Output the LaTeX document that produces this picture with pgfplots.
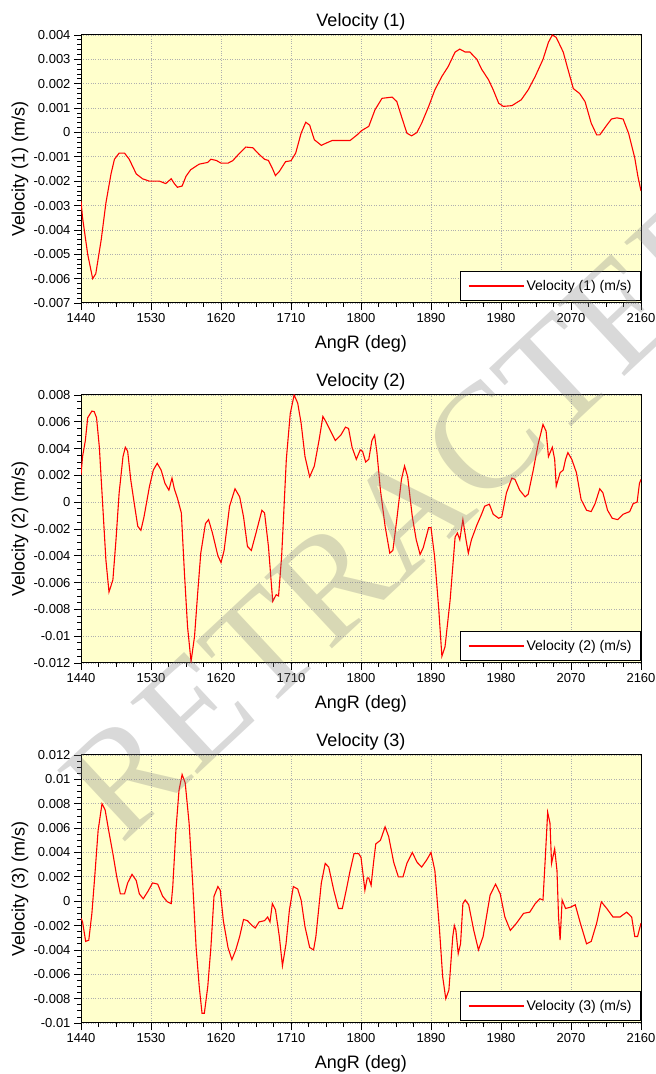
\documentclass[border=0pt]{standalone}
\usepackage{pgfplots}
\pgfplotsset{compat=1.18}
\usepackage{fontspec}
\setmainfont{Liberation Sans}
\newfontfamily\wmfont{Liberation Serif}
\definecolor{bgyellow}{RGB}{255,255,204}
\definecolor{gridgray}{RGB}{175,175,175}
\definecolor{pltred}{RGB}{255,0,0}

\pgfplotstableread{
x y
1440 -0.0028
1442 -0.0035
1448.6 -0.0050
1455 -0.0060
1459 -0.0058
1466 -0.0044
1472 -0.0029
1478.6 -0.0017
1483 -0.0011
1489 -0.00085
1496 -0.00085
1502 -0.0011
1511 -0.0017
1519 -0.0019
1528 -0.0020
1541 -0.0020
1549 -0.0021
1556 -0.0019
1560 -0.0021
1564 -0.00225
1570 -0.0022
1575 -0.0018
1581 -0.00153
1592 -0.0013
1603 -0.00123
1607 -0.0011
1614 -0.00115
1620 -0.00126
1629 -0.00126
1635 -0.00116
1644 -0.00085
1652 -0.0006
1661 -0.00063
1669 -0.0009
1676 -0.0011
1681 -0.00115
1686 -0.00147
1690 -0.00177
1695 -0.0016
1703 -0.0012
1710 -0.00116
1716 -0.00085
1723 -0.00003
1729 0.00042
1734 0.0003
1740 -0.0003
1749 -0.00053
1755 -0.00044
1763 -0.00033
1786 -0.00033
1795 -0.0001
1801 0.00008
1810 0.00025
1818 0.00093
1827 0.0014
1840 0.00145
1846 0.00127
1852 0.00066
1859 -0.00003
1865 -0.00014
1872 0
1878 0.00038
1887 0.00107
1895 0.00175
1904 0.0023
1912 0.0027
1921 0.0033
1927 0.00342
1934 0.0033
1940 0.0033
1949 0.003
1955 0.0026
1964 0.00216
1970 0.00175
1977 0.0012
1983 0.00107
1994 0.0011
2006 0.00134
2015 0.00175
2024 0.0023
2034 0.003
2041 0.0037
2046 0.0040
2051 0.0039
2060 0.0033
2066 0.0026
2073 0.0018
2081 0.0016
2088 0.00127
2096 0.00038
2103 -0.0001
2107 -0.0001
2116 0.0003
2122 0.00055
2129 0.0006
2137 0.00055
2144 -0.00003
2152 -0.00105
2156 -0.0018
2160 -0.0024
}\velone

\pgfplotstableread{
x y
1440 0.00204
1442 0.0034
1445.6 0.0046
1448.6 0.0063
1454 0.0068
1457 0.00676
1460 0.0063
1463.6 0.0041
1468 -0.0003
1472 -0.0043
1476 -0.0067
1481 -0.0058
1485 -0.0028
1489 0.00067
1494 0.0034
1497 0.0041
1500 0.0038
1504 0.00166
1509 -0.0003
1513 -0.0018
1517 -0.0021
1521 -0.0011
1528 0.00117
1533 0.0024
1538 0.0029
1543 0.0024
1548 0.0014
1553 0.0009
1557 0.0018
1560 0.001
1564 0.0003
1569 -0.0008
1573 -0.0053
1577 -0.0093
1581.5 -0.0119
1586 -0.0100
1590 -0.0068
1594 -0.0038
1600 -0.0016
1604 -0.0013
1609 -0.0023
1616 -0.0040
1620 -0.0045
1624 -0.0036
1631 -0.0003
1638 0.0010
1644 0.0004
1649 -0.0011
1654 -0.0033
1659 -0.0036
1665 -0.0023
1672.6 -0.0006
1676 -0.0008
1681 -0.0033
1686.5 -0.0074
1691 -0.0069
1694 -0.0070
1698 -0.0040
1704 0.0032
1709 0.0066
1714 0.0080
1718.6 0.0074
1723 0.0059
1728 0.0034
1734 0.0019
1740 0.0027
1746 0.0046
1751 0.0064
1754 0.0061
1761 0.0053
1767 0.0046
1774 0.0050
1780 0.0056
1784 0.0055
1788.5 0.0041
1794 0.0032
1799 0.0039
1802 0.0038
1806 0.0030
1810 0.0032
1814 0.0046
1817.5 0.0050
1820.5 0.0037
1825 0.0009
1831 -0.0018
1837 -0.0038
1841 -0.0036
1846 -0.0013
1852 0.0017
1856 0.0027
1860 0.0019
1866 -0.0011
1871 -0.0028
1876 -0.0039
1880 -0.0034
1887 -0.0019
1890 -0.0019
1894.5 -0.0040
1900 -0.0080
1904 -0.0115
1908 -0.0108
1914.6 -0.0073
1921 -0.0026
1924 -0.0023
1927 -0.0028
1931 -0.0013
1935 -0.0028
1938 -0.0038
1942 -0.0028
1949 -0.0017
1955 -0.0009
1959 -0.0003
1965 -0.00015
1970 -0.0009
1977 -0.0012
1981 -0.0011
1987 0.0007
1994 0.0018
1998 0.0017
2004 0.0009
2011 0.0004
2015 0.0006
2021.5 0.0024
2028 0.0044
2034 0.0058
2038 0.0053
2041 0.0034
2046 0.0041
2049 0.0032
2051 0.0012
2056 0.0022
2060 0.0024
2063 0.0032
2066 0.0037
2071 0.0032
2077 0.0022
2083 0.0002
2090 -0.0006
2096 -0.0007
2101 -0.0001
2107 0.0010
2111 0.0007
2117 -0.0006
2123 -0.0012
2130 -0.0013
2137 -0.0009
2145.5 -0.0007
2150 -0.0001
2155 0.0000
2158 0.0014
2160 0.0017
}\veltwo

\pgfplotstableread{
x y
1440 -0.0014
1442 -0.0017
1446 -0.0033
1450 -0.0032
1454 -0.0010
1458 0.0023
1462 0.0058
1467 0.0080
1471 0.0075
1475.6 0.0058
1481 0.0039
1486 0.0020
1490.6 0.0006
1496 0.0006
1500 0.0015
1505.6 0.0022
1511 0.0017
1515 0.0006
1520 0.0002
1526 0.0008
1532 0.0015
1538.6 0.0014
1545 0.0004
1551 -0.00005
1556 -0.0002
1558 0.0012
1562 0.0058
1566 0.0091
1570 0.0104
1574 0.0097
1579 0.0064
1583.6 0.0015
1588 -0.0038
1592 -0.0070
1595.6 -0.0092
1598.6 -0.0092
1603 -0.0070
1607 -0.0038
1611 0.0004
1616 0.0012
1619 0.0009
1623 -0.0016
1629 -0.0038
1634 -0.0048
1639 -0.0040
1644 -0.0029
1649 -0.0015
1654 -0.0016
1660 -0.0020
1664 -0.0022
1669 -0.0017
1676 -0.0016
1680 -0.0013
1683 -0.0017
1686 -0.0002
1690 -0.0007
1695 -0.0029
1699 -0.0053
1703.6 -0.0035
1708 -0.0007
1713 0.0012
1718.6 0.0010
1723 0.0001
1728 -0.0021
1734 -0.0038
1739 -0.0040
1742 -0.0029
1749 0.0015
1754 0.0031
1758.5 0.0028
1765 0.0009
1771 -0.0006
1776 -0.0006
1781 0.0009
1786 0.0025
1791 0.0039
1797 0.0039
1800 0.0036
1803 0.0020
1805 0.0009
1808 0.0019
1810 0.0019
1813 0.0013
1816 0.0031
1819 0.0047
1825 0.0050
1831 0.0061
1835.6 0.0053
1842 0.0032
1848 0.0020
1854 0.0020
1859 0.0031
1866 0.0040
1872 0.0032
1878 0.0028
1884.6 0.0034
1890 0.0040
1895 0.0025
1901 -0.0024
1905 -0.0062
1909 -0.0080
1913 -0.0073
1918 -0.0029
1920 -0.0020
1922 -0.0024
1925 -0.0043
1928 -0.0035
1931 -0.0002
1934 0.0001
1938.5 -0.0003
1945 -0.0024
1951 -0.0040
1957 -0.0029
1966 0.0005
1973 0.0014
1979 0.0006
1985 -0.0013
1992 -0.0024
2000 -0.0018
2009 -0.0010
2017 -0.0009
2024 -0.0002
2030 0.0002
2034 0.0001
2037 0.0036
2040 0.0073
2043 0.0064
2045 0.0031
2049 0.0043
2052 0.0025
2054 -0.0013
2056 -0.0032
2058.6 0.0001
2063 -0.0006
2069 -0.0005
2075.5 -0.0003
2082 -0.0018
2090 -0.0035
2096 -0.0033
2103 -0.0018
2109 -0.00005
2116 -0.0006
2124 -0.0013
2133 -0.0013
2141.5 -0.0009
2148 -0.0013
2152 -0.0029
2155.6 -0.0029
2160 -0.0018
}\velthree

\pgfplotsset{
  velo/.style={
    width=560pt, height=268pt, scale only axis,
    xmin=1440, xmax=2160, xtick={1440,1530,...,2160}, minor x tick num=3,
    axis background/.style={fill=bgyellow},
    grid=major, major grid style={dotted, gridgray, line width=0.7pt},
    tick align=outside, xtick pos=bottom, ytick pos=left,
    major tick length=7pt, minor tick length=4pt,
    every tick/.style={black, line width=0.8pt},
    axis line style={line width=1pt},
    scaled y ticks=false,
    ticklabel style={font=\fontsize{13}{15}\selectfont},
    /pgf/number format/fixed, /pgf/number format/precision=3,
    /pgf/number format/1000 sep={}, /pgf/number format/assume math mode=true,
    title style={at={(0.5,1.026)}, anchor=center, yshift=0pt, font=\fontsize{18}{20}\selectfont, inner sep=0pt},
    xlabel style={at={(axis description cs:0.5,-0.153)}, anchor=center, font=\fontsize{18}{20}\selectfont, inner sep=0pt},
    ylabel style={at={(axis description cs:-0.109,0.5)}, anchor=center, font=\fontsize{18}{20}\selectfont, inner sep=0pt},
    xlabel={AngR (deg)},
    legend style={at={(1,0)}, anchor=south east, yshift=2pt, draw, line width=0.8pt, fill=white,
      font=\fontsize{14}{16}\selectfont, inner xsep=7pt, inner ysep=7pt},
    legend image code/.code={\draw[pltred, line width=2pt] (0pt,0pt) -- (55pt,0pt);},
    legend cell align=left,
  }
}

\begin{document}
\begin{tikzpicture}[x=1pt,y=1pt]
\path[use as bounding box] (0,0) rectangle (656,1074);
\clip (0,0) rectangle (656,1074);

\begin{axis}[velo, at={(81pt,771pt)}, anchor=south west,
  ymin=-0.007, ymax=0.004,
  ytick={-0.007,-0.006,-0.005,-0.004,-0.003,-0.002,-0.001,0,0.001,0.002,0.003,0.004},
  minor y tick num=4,
  title={Velocity (1)}, ylabel={Velocity (1) (m/s)}]
\addplot[pltred, line width=1.1pt, no markers] table[x=x,y=y] {\velone};
\addlegendentry{Velocity (1) (m/s)}
\end{axis}

\begin{axis}[velo, at={(81pt,411pt)}, anchor=south west,
  ymin=-0.012, ymax=0.008,
  ytick={-0.012,-0.01,-0.008,-0.006,-0.004,-0.002,0,0.002,0.004,0.006,0.008},
  minor y tick num=3,
  title={Velocity (2)}, ylabel={Velocity (2) (m/s)}]
\addplot[pltred, line width=1.1pt, no markers] table[x=x,y=y] {\veltwo};
\addlegendentry{Velocity (2) (m/s)}
\end{axis}

\begin{axis}[velo, at={(81pt,51pt)}, anchor=south west,
  ymin=-0.01, ymax=0.012,
  ytick={-0.01,-0.008,-0.006,-0.004,-0.002,0,0.002,0.004,0.006,0.008,0.01,0.012},
  minor y tick num=3,
  title={Velocity (3)}, ylabel={Velocity (3) (m/s)}]
\addplot[pltred, line width=1.1pt, no markers] table[x=x,y=y] {\velthree};
\addlegendentry{Velocity (3) (m/s)}
\end{axis}

\node[rotate=43, text=gray, opacity=0.3, font=\fontsize{150}{150}\selectfont\wmfont, inner sep=0pt]
  at (411,565) {RETRACTED};
\end{tikzpicture}
\end{document}
